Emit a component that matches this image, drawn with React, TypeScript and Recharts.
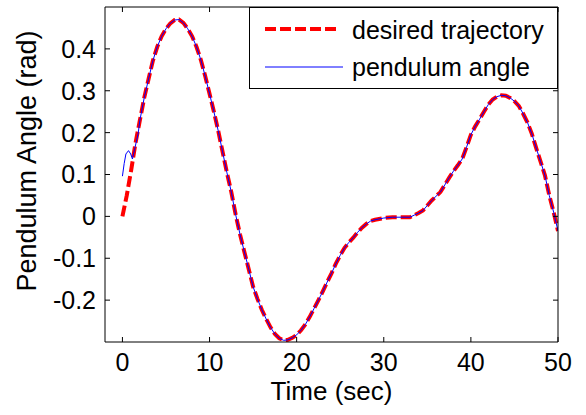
import { LineChart, Line, XAxis, YAxis, Legend } from 'recharts';

const FONT = '"Liberation Sans", Arial, Helvetica, sans-serif';

// desired trajectory
const desiredTime = [
  0, 0.5, 1, 1.5, 2, 2.5, 3, 3.5, 4, 4.5, 5, 5.5, 6, 6.5, 7, 7.5, 8, 8.5, 9, 9.5,
  10, 10.5, 11, 11.5, 12, 12.5, 13, 13.5, 14, 14.5, 15, 15.5, 16, 16.5, 17, 17.5, 18, 18.5, 19, 19.5,
  20, 20.5, 21, 21.5, 22, 22.5, 23, 23.5, 24, 24.5, 25, 25.5, 26, 26.5, 27, 27.5, 28, 28.5, 29, 30,
  31, 32, 33, 33.5, 34, 34.5, 35, 35.5, 36, 36.5, 37, 37.5, 38, 38.5, 39, 39.5,
  40, 40.5, 41, 41.5, 42, 42.5, 43, 43.5, 44, 44.5, 45, 45.5, 46, 46.5, 47, 47.5, 48, 48.5, 49, 49.5, 50,
];
const desiredAngle = [
  0, 0.05, 0.11, 0.175, 0.229, 0.283, 0.328, 0.372, 0.405, 0.43, 0.448, 0.461, 0.469, 0.47, 0.462, 0.448, 0.43, 0.405, 0.374, 0.335,
  0.293, 0.25, 0.204, 0.154, 0.104, 0.058, 0.004, -0.043, -0.085, -0.126, -0.168, -0.197, -0.223, -0.245, -0.265, -0.281, -0.291, -0.296, -0.295, -0.29,
  -0.283, -0.272, -0.258, -0.24, -0.22, -0.2, -0.179, -0.157, -0.136, -0.113, -0.093, -0.075, -0.062, -0.051, -0.038, -0.027, -0.018, -0.011, -0.008, -0.004,
  -0.002, -0.002, -0.002, 0.003, 0.008, 0.014, 0.026, 0.038, 0.048, 0.058, 0.075, 0.092, 0.108, 0.122, 0.137, 0.165,
  0.195, 0.215, 0.232, 0.25, 0.267, 0.279, 0.286, 0.289, 0.288, 0.283, 0.275, 0.264, 0.245, 0.224, 0.197, 0.163, 0.131, 0.098, 0.05, 0.01, -0.035,
];

// measured pendulum angle: own start, then it sits on the desired curve from t = 2
const startTime = [0, 0.2, 0.4, 0.7, 0.95, 1.15, 1.45, 1.8];
const startAngle = [0.096, 0.126, 0.149, 0.157, 0.149, 0.137, 0.165, 0.197];
const joinIndex = desiredTime.indexOf(2);
const angleTime = [...startTime, ...desiredTime.slice(joinIndex)];
const angleValues = [...startAngle, ...desiredAngle.slice(joinIndex)];

const xTicks = [0, 10, 20, 30, 40, 50];
const yTicks = [-0.2, -0.1, 0, 0.1, 0.2, 0.3, 0.4];

const desiredData = desiredTime.map((t, i) => ({ t, v: desiredAngle[i] }));
const angleData = angleTime.map((t, i) => ({ t, v: angleValues[i] }));

const tickStyle = { fill: '#000', fontSize: 25, fontFamily: FONT };

const renderLegend = () => (
  <div
    style={{
      width: 307,
      height: 80,
      border: '1px solid #000',
      background: '#fff',
    }}
  >
    <svg width={307} height={80} style={{ display: 'block' }}>
      <line x1={15} x2={90} y1={21} y2={21} stroke="#ff0000" strokeWidth={4} strokeDasharray="11 4" />
      <line x1={15} x2={93} y1={59} y2={59} stroke="#0000ff" strokeWidth={1} />
      <text x={102} y={31} fontSize={25} fontFamily={FONT} fill="#000">
        desired trajectory
      </text>
      <text x={102} y={68} fontSize={25} fontFamily={FONT} fill="#000">
        pendulum angle
      </text>
    </svg>
  </div>
);

const renderYLabel = () => (
  <text
    x={27}
    y={161}
    transform="rotate(-90, 27, 161)"
    textAnchor="middle"
    dominantBaseline="central"
    fontSize={27}
    fontFamily={FONT}
    fill="#000"
  >
    Pendulum Angle (rad)
  </text>
);

const noTick = () => <g />;

export default function App() {
  return (
    <div style={{ position: 'absolute', left: 0, top: 0, background: '#fff' }}>
      <LineChart width={586} height={415} margin={{ top: 6, right: 27, bottom: 0, left: 0 }}>
        <XAxis
          xAxisId="bottom"
          dataKey="t"
          type="number"
          domain={[-2, 50]}
          ticks={xTicks}
          allowDataOverflow
          height={73}
          stroke="#000"
          tickSize={-5}
          tickMargin={16}
          tick={tickStyle}
          label={{ value: 'Time (sec)', position: 'insideBottom', offset: 15, fill: '#000', fontSize: 26, fontFamily: FONT }}
        />
        <XAxis
          xAxisId="top"
          orientation="top"
          dataKey="t"
          type="number"
          domain={[-2, 50]}
          ticks={xTicks}
          allowDataOverflow
          height={1}
          stroke="#000"
          tickSize={-5}
          tick={noTick}
        />
        <YAxis
          yAxisId="left"
          type="number"
          domain={[-0.3, 0.5]}
          ticks={yTicks}
          allowDataOverflow
          width={105}
          stroke="#000"
          tickSize={-5}
          tickMargin={14}
          tick={tickStyle}
          label={{ content: renderYLabel }}
        />
        <YAxis
          yAxisId="right"
          orientation="right"
          type="number"
          domain={[-0.3, 0.5]}
          ticks={yTicks}
          allowDataOverflow
          width={1}
          stroke="#000"
          tickSize={-5}
          tick={noTick}
        />
        <Legend
          layout="vertical"
          align="center"
          verticalAlign="middle"
          content={renderLegend}
          wrapperStyle={{ position: 'absolute', left: 249, top: 7, width: 309 }}
        />
        <Line
          xAxisId="bottom"
          yAxisId="left"
          data={desiredData}
          dataKey="v"
          name="desired trajectory"
          type="linear"
          stroke="#ff0000"
          strokeWidth={4}
          strokeDasharray="11 4"
          dot={false}
          isAnimationActive={false}
        />
        {/* same scales as bottom/left; plotted on top/right so the box axes render */}
        <Line
          xAxisId="top"
          yAxisId="right"
          data={angleData}
          dataKey="v"
          name="pendulum angle"
          type="linear"
          stroke="#0000ff"
          strokeWidth={1}
          dot={false}
          isAnimationActive={false}
        />
      </LineChart>
    </div>
  );
}
